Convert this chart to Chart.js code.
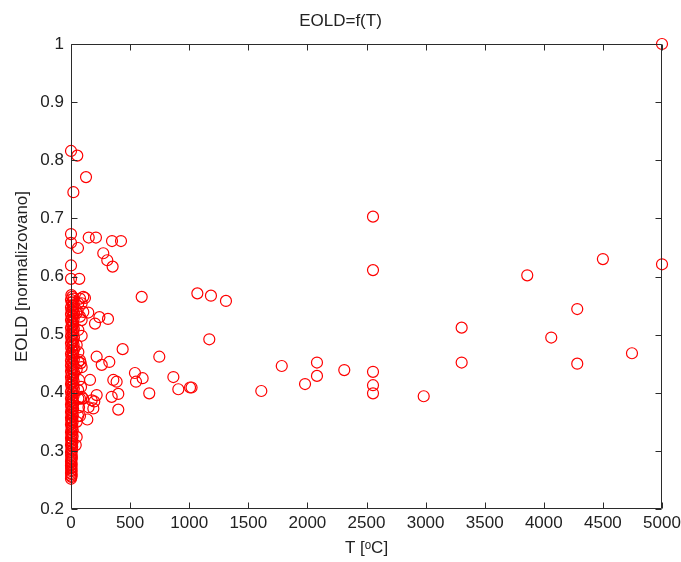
<!DOCTYPE html>
<html>
<head>
<meta charset="utf-8">
<title>EOLD=f(T)</title>
<script src="https://cdn.jsdelivr.net/npm/chart.js@4.4.1/dist/chart.umd.min.js"></script>
<style>
  html, body { margin: 0; padding: 0; background: #fff; }
  #wrap { width: 681px; height: 562px; }
</style>
</head>
<body>
<div id="wrap"><canvas id="chart" width="681" height="562"></canvas></div>
<script>
// ─── Data ────────────────────────────────────────────────
// scattered measurements (T in °C, EOLD normalised)
const tempC = [
  5000, 5000, 4500, 3860, 4283, 4063, 4283, 4746,
  3305, 3305, 2984, 2555, 2555, 2555, 2555, 2555,
  2312, 2081, 2081, 1980, 1783, 1610,
  1311, 1184, 1069, 1170,
  1007, 1020, 908, 866, 747, 662, 606, 550, 541, 598,
  437, 423, 347, 352, 307, 273, 211, 150, 127, 53,
  0, 20, 0, 0, 59, 0, 0, 70,
  118, 146, 240, 313, 203, 90,
  217, 260, 324, 82,
  161, 358, 386, 400, 344, 400,
  217, 175, 189, 138, 148, 90
];
const eold = [
  1.0, 0.621, 0.63, 0.602, 0.544, 0.495, 0.45, 0.468,
  0.452, 0.512, 0.394, 0.703, 0.611, 0.436, 0.413, 0.399,
  0.439, 0.452, 0.429, 0.415, 0.446, 0.403,
  0.558, 0.567, 0.571, 0.492,
  0.409, 0.409, 0.406, 0.427, 0.462, 0.399, 0.425, 0.419, 0.434, 0.565,
  0.475, 0.661, 0.661, 0.617, 0.628, 0.64, 0.667, 0.667, 0.771, 0.808,
  0.816, 0.745, 0.673, 0.658, 0.649, 0.619, 0.596, 0.596,
  0.563, 0.538, 0.530, 0.527, 0.519, 0.498,
  0.462, 0.448, 0.453, 0.451,
  0.422, 0.422, 0.419, 0.398, 0.393, 0.371,
  0.396, 0.387, 0.373, 0.354, 0.375, 0.393
];

// points just right of the T=0 column
const nearTempC = [104, 90, 48, 76, 104, 76, 48, 90, 62, 62, 48, 62, 62, 48, 68, 60, 62, 68, 60, 48, 48, 40, 76, 90, 197, 76, 76, 102, 85];
const nearEold  = [0.565, 0.554, 0.542, 0.531, 0.539, 0.562, 0.537, 0.525, 0.554, 0.508, 0.482, 0.47, 0.453, 0.44, 0.422, 0.405, 0.39, 0.375, 0.36, 0.35, 0.324, 0.31, 0.456, 0.444, 0.385, 0.36, 0.39, 0.39, 0.41];

// the dense column at T ≈ 0 (reads as a solid red bar)
const colTempC = [
  0, 4, 2, 6, 0, 3, 5, 1, 4, 0,
  6, 2, 0, 5, 3, 7, 1, 4, 0, 8,
  3, 10, 0, 6, 12, 2, 8, 0, 14, 5,
  10, 0, 15, 4, 8, 12, 0, 6, 14, 2,
  10, 0, 16, 5, 12, 0, 8, 18, 3, 12,
  0, 20, 6, 14, 0, 10, 22, 4, 16, 0,
  12, 24, 5, 18, 0, 10, 22, 3, 15, 0,
  20, 8, 25, 0, 14, 6, 22, 0, 18, 10,
  0, 24, 12, 4, 20, 0, 16, 8, 25, 2,
  14, 22, 0, 10, 18, 5, 25, 0, 12, 20,
  3, 16, 24, 0, 10, 20, 6, 14, 0, 22,
  8, 18, 0, 25, 12, 4, 20, 0, 15, 24,
  6, 14, 0, 20, 10, 3
];
const colEold = [
  0.252, 0.255, 0.257, 0.260, 0.262, 0.265, 0.267, 0.270, 0.272, 0.275,
  0.277, 0.280, 0.282, 0.285, 0.287, 0.290, 0.292, 0.295, 0.298, 0.301,
  0.304, 0.307, 0.310, 0.312, 0.315, 0.317, 0.320, 0.322, 0.325, 0.327,
  0.330, 0.332, 0.335, 0.337, 0.340, 0.342, 0.345, 0.347, 0.350, 0.352,
  0.355, 0.357, 0.360, 0.362, 0.365, 0.367, 0.370, 0.372, 0.375, 0.377,
  0.380, 0.382, 0.385, 0.387, 0.390, 0.392, 0.395, 0.397, 0.400, 0.402,
  0.405, 0.407, 0.410, 0.412, 0.415, 0.417, 0.420, 0.422, 0.425, 0.427,
  0.430, 0.432, 0.435, 0.437, 0.440, 0.442, 0.445, 0.447, 0.450, 0.452,
  0.455, 0.457, 0.460, 0.462, 0.465, 0.467, 0.470, 0.472, 0.475, 0.477,
  0.480, 0.482, 0.485, 0.487, 0.490, 0.492, 0.495, 0.497, 0.500, 0.502,
  0.505, 0.507, 0.510, 0.512, 0.515, 0.517, 0.520, 0.522, 0.525, 0.527,
  0.530, 0.532, 0.535, 0.537, 0.540, 0.542, 0.545, 0.547, 0.550, 0.552,
  0.555, 0.557, 0.560, 0.562, 0.565, 0.568
];

// axis limits / ticks
const X_MIN = 0, X_MAX = 5000, X_STEP = 500;
const Y_MIN = 0.2, Y_MAX = 1, Y_STEP = 0.1;

// ─── Style ───────────────────────────────────────────────
const FONT = "'Liberation Sans', Arial, sans-serif";
const TEXT = "#222";
const AXIS = "#2b2b2b";
const RED  = "#ff0000";
const TICK_LEN = 6;

function toPoints(xs, ys) {
  return xs.map((x, i) => ({ x, y: ys[i] }));
}

const allPoints = [
  ...toPoints(colTempC, colEold),
  ...toPoints(nearTempC, nearEold),
  ...toPoints(tempC, eold),
];

// ─── MATLAB-ish box with inward ticks, drawn over the markers ───
const boxTicks = {
  id: "boxTicks",
  afterDatasetsDraw(chart) {
    const { ctx, chartArea: a, scales: { x, y } } = chart;
    const L = Math.round(a.left) + 0.5, R = Math.round(a.right) - 0.5;
    const T = Math.round(a.top) + 0.5,  B = Math.round(a.bottom) - 0.5;
    ctx.save();
    ctx.strokeStyle = AXIS;
    ctx.lineWidth = 1;
    ctx.beginPath();
    ctx.rect(L, T, R - L, B - T);
    x.ticks.forEach(t => {
      const px = Math.round(x.getPixelForValue(t.value)) + 0.5;
      ctx.moveTo(px, B); ctx.lineTo(px, B - TICK_LEN);
      ctx.moveTo(px, T); ctx.lineTo(px, T + TICK_LEN);
    });
    y.ticks.forEach(t => {
      const py = Math.round(y.getPixelForValue(t.value)) + 0.5;
      ctx.moveTo(L, py); ctx.lineTo(L + TICK_LEN, py);
      ctx.moveTo(R, py); ctx.lineTo(R - TICK_LEN, py);
    });
    ctx.stroke();
    ctx.restore();
  }
};

// ─── Chart ───────────────────────────────────────────────
new Chart(document.getElementById("chart").getContext("2d"), {
  type: "scatter",
  data: {
    datasets: [{
      data: allPoints,
      pointStyle: "circle",
      pointRadius: 5.5,
      pointHoverRadius: 5.5,
      borderColor: RED,
      backgroundColor: "rgba(0,0,0,0)",
      borderWidth: 1.2,
      clip: false,
    }]
  },
  options: {
    responsive: false,
    animation: false,
    devicePixelRatio: 1,
    layout: { padding: 0 },
    plugins: {
      legend: { display: false },
      tooltip: { enabled: false },
      title: {
        display: true,
        text: "EOLD=f(T)",
        color: TEXT,
        font: { family: FONT, size: 17, weight: "normal" },
        padding: { top: 11, bottom: 12.6 }
      }
    },
    scales: {
      x: {
        type: "linear",
        min: X_MIN, max: X_MAX,
        grid: { display: false, drawTicks: false },
        border: { display: false },
        ticks: {
          stepSize: X_STEP, autoSkip: false, maxRotation: 0,
          padding: 4, color: TEXT,
          font: { family: FONT, size: 17 },
          callback: v => String(v)
        },
        title: {
          display: true, text: "T [ᵒC]", color: TEXT,
          font: { family: FONT, size: 17 },
          padding: { top: 0, bottom: 3 }
        },
        afterFit: s => { s.height = 53; s.paddingLeft = 0; s.paddingRight = 19; }
      },
      y: {
        type: "linear",
        min: Y_MIN, max: Y_MAX,
        grid: { display: false, drawTicks: false },
        border: { display: false },
        ticks: {
          stepSize: Y_STEP, padding: 7, color: TEXT,
          font: { family: FONT, size: 17 },
          callback: v => String(Math.round(v * 10) / 10)
        },
        title: {
          display: true, text: "EOLD [normalizovano]", color: TEXT,
          font: { family: FONT, size: 17 },
          padding: { top: 12, bottom: 0 }
        },
        afterFit: s => { s.width = 71; }
      }
    }
  },
  plugins: [boxTicks]
});
</script>
</body>
</html>
